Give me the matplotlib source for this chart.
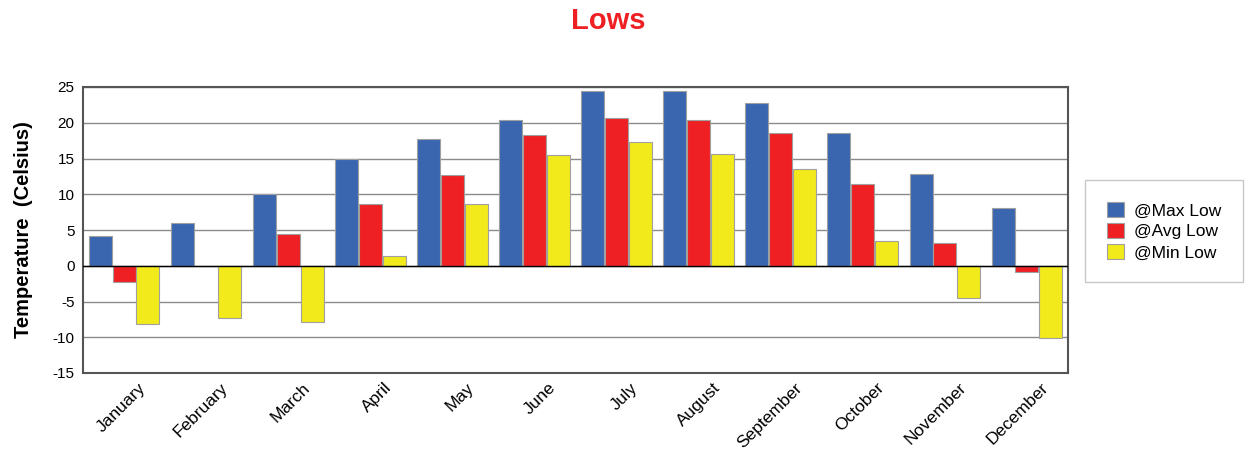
import matplotlib
matplotlib.use("Agg")
import matplotlib.pyplot as plt
import matplotlib.transforms as mtransforms
import numpy as np

months = ["January", "February", "March", "April", "May", "June", "July",
          "August", "September", "October", "November", "December"]
max_low = [4.2, 6.0, 10.1, 15.0, 17.7, 20.4, 24.5, 24.4, 22.8, 18.6, 12.9, 8.1]
avg_low = [-2.3, 0.0, 4.5, 8.6, 12.7, 18.3, 20.7, 20.4, 18.6, 11.4, 3.2, -0.9]
min_low = [-8.2, -7.3, -7.9, 1.4, 8.7, 15.5, 17.3, 15.6, 13.6, 3.4, -4.5, -10.1]
series_names = ["@Max Low", "@Avg Low", "@Min Low"]
series_colors = ["#3A66B0", "#EE2024", "#F2EA1A"]
yticks = [-15, -10, -5, 0, 5, 10, 15, 20, 25]

plt.rcParams['font.family'] = ['Liberation Sans', 'DejaVu Sans']

fig = plt.figure(figsize=(12.52, 4.51), dpi=100)
ax = fig.add_axes([83/1252, 1 - 373/451, (1068-83)/1252, (373-87)/451])

x = np.arange(len(months))
offsets = [-0.29, 0.0, 0.29]
width = 0.28
for vals, name, col, off in zip([max_low, avg_low, min_low], series_names, series_colors, offsets):
    ax.bar(x + off, vals, width, color=col, edgecolor="#A0A0A0", linewidth=0.8,
           label=name, zorder=3)

ax.set_xlim(-0.5, len(months) - 0.5)
ax.set_ylim(-15, 25)
ax.set_yticks(yticks)
ax.set_yticklabels([str(t) for t in yticks], fontsize=11)
ax.set_xticks(x)
ax.set_xticklabels(months, rotation=45, ha="right", va="top", fontsize=12.5,
                   rotation_mode="anchor")
ax.tick_params(axis="both", length=0, pad=6)
ax.tick_params(axis="x", pad=0)
offset = mtransforms.ScaledTranslation(0.14, -0.07, fig.dpi_scale_trans)
for lab in ax.get_xticklabels():
    lab.set_transform(lab.get_transform() + offset)

ax.grid(axis="y", color="#8A8A8A", linewidth=1.0, zorder=0)
ax.axhline(0, color="black", linewidth=1.0, zorder=4)
for s in ax.spines.values():
    s.set_color("#555555")
    s.set_linewidth(1.5)

ax.set_ylabel("Temperature  (Celsius)", fontsize=14.5, fontweight="bold", labelpad=14)

fig.text(608/1252, 1 - 21/451, "Lows", color="#EE2024", fontsize=21,
         fontweight="bold", ha="center", va="center")

leg = fig.legend(loc="upper left", bbox_to_anchor=(1085/1252, 1 - 180/451),
                 bbox_transform=fig.transFigure, fontsize=12.5, frameon=True,
                 fancybox=False, edgecolor="#BBBBBB", handlelength=1.0,
                 handleheight=1.0, handletextpad=0.6, labelspacing=0.25,
                 borderpad=1.25, borderaxespad=0)
leg.get_frame().set_linewidth(1.0)

fig.savefig("out.png", dpi=100)
